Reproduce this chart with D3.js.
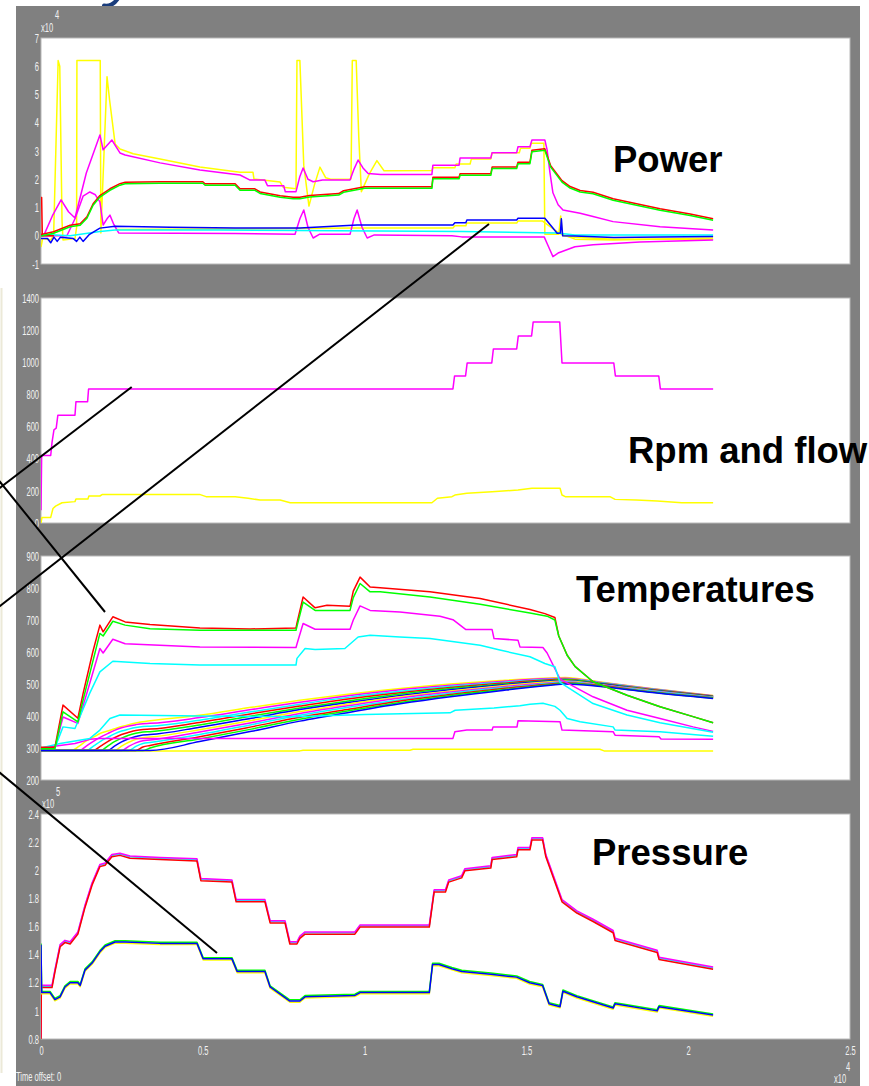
<!DOCTYPE html>
<html><head><meta charset="utf-8">
<script src="https://cdnjs.cloudflare.com/ajax/libs/d3/7.8.5/d3.min.js"></script>
<style>
html,body{margin:0;padding:0;background:#fff;}
svg{display:block;}
</style></head><body>
<svg id="c" width="869" height="1086"></svg>
<script>
// ---------------- DATA (time in units of 10^4 s) ----------------
const xTicks = [0, 0.5, 1, 1.5, 2, 2.5];
const xTickLabels = ["0", "0.5", "1", "1.5", "2", "2.5"];
const powerTicks = [-1, 0, 1, 2, 3, 4, 5, 6, 7];
const rpmTicks = [0, 200, 400, 600, 800, 1000, 1200, 1400];
const tempTicks = [200, 300, 400, 500, 600, 700, 800, 900];
const pressTicks = [0.8, 1, 1.2, 1.4, 1.6, 1.8, 2, 2.2, 2.4];
const pressTickLabels = ["0.8", "1", "1.2", "1.4", "1.6", "1.8", "2", "2.2", "2.4"];
const panelTitles = ["Power", "Rpm and flow", "Temperatures", "Pressure"];

// Power (x10^4)
const powerYellow = [[0,-0.4],[0.005,-0.1],[0.03,-0.15],[0.039,0],[0.053,6.2],[0.058,6.0],[0.065,0.5],[0.068,-0.15],[0.105,-0.1],[0.110,0.3],[0.111,6.2],[0.183,6.2],[0.185,0.1],[0.195,3.0],[0.204,5.63],[0.212,4.8],[0.229,3.25],[0.244,3.07],[0.285,2.9],[0.368,2.72],[0.491,2.43],[0.615,2.25],[0.655,2.25],[0.658,2.01],[0.739,1.9],[0.748,1.72],[0.788,1.66],[0.791,6.2],[0.800,6.2],[0.812,2.5],[0.828,1.05],[0.845,1.8],[0.862,2.43],[0.880,2.05],[0.895,2.0],[0.958,2.01],[0.962,6.2],[0.974,6.2],[0.982,3.5],[0.990,1.56],[1.015,2.2],[1.038,2.66],[1.060,2.3],[1.208,2.31],[1.211,2.41],[1.279,2.41],[1.283,2.54],[1.326,2.54],[1.330,2.72],[1.390,2.72],[1.394,2.94],[1.478,2.94],[1.482,3.1],[1.511,3.1],[1.515,3.27],[1.554,3.27],[1.557,0.05],[1.600,0.05],[1.606,0.7],[1.612,0.0],[1.650,-0.05],[1.770,-0.12],[2.077,-0.12]];
const powerYellow2 = [[0.229,0.22],[0.977,0.27],[1.273,0.27],[1.279,0.35],[1.313,0.35],[1.316,0.45],[1.470,0.45],[1.474,0.52],[1.550,0.52],[1.600,0.1],[1.650,-0.12],[1.770,-0.15],[2.077,-0.08]];
const powerMagentaA = [[0,0],[0.01,0.05],[0.035,0.7],[0.062,1.27],[0.085,0.85],[0.105,0.63],[0.140,2.22],[0.182,3.57],[0.192,3.04],[0.219,3.39],[0.244,2.93],[0.26,2.86],[0.368,2.58],[0.491,2.33],[0.615,2.15],[0.646,1.97],[0.692,1.97],[0.70,1.77],[0.75,1.77],[0.755,1.56],[0.788,1.56],[0.80,2.1],[0.81,2.4],[0.825,2.0],[0.841,1.91],[0.87,1.97],[0.955,1.97],[0.967,2.35],[0.98,2.68],[0.995,2.4],[1.011,2.2],[1.05,2.17],[1.208,2.17],[1.211,2.5],[1.292,2.5],[1.295,2.75],[1.390,2.75],[1.394,2.94],[1.470,2.94],[1.474,3.15],[1.511,3.15],[1.517,3.39],[1.557,3.39],[1.564,3.04],[1.573,2.22],[1.582,1.52],[1.598,1.1],[1.613,0.91],[1.666,0.8],[1.706,0.68],[1.768,0.5],[1.913,0.32],[2.077,0.2]];
const powerMagentaB = [[0,0],[0.08,0.0],[0.105,0.6],[0.13,1.4],[0.151,1.55],[0.168,1.45],[0.182,1.2],[0.192,0.38],[0.204,0.6],[0.213,0.73],[0.225,0.4],[0.240,0.1],[0.60,0.08],[0.785,0.05],[0.80,0.6],[0.812,0.91],[0.825,0.3],[0.841,-0.08],[0.86,0.05],[0.955,0.05],[0.967,0.6],[0.977,0.91],[0.992,0.3],[1.008,-0.08],[1.03,0.03],[1.27,0.0],[1.30,-0.04],[1.555,-0.04],[1.565,-0.3],[1.582,-0.74],[1.60,-0.6],[1.65,-0.39],[1.706,-0.32],[1.85,-0.22],[2.077,-0.15]];
const powerCyan = [[0,0.05],[0.09,0.0],[0.182,0.15],[0.229,0.2],[0.55,0.2],[1.30,0.15],[1.595,0.1],[1.65,0.03],[2.077,0.03]];
const powerRedStart = [[0,1.35],[0.002,1.35],[0.004,0],[0.04,0]];
const powerRG = [[0,0],[0.039,0.1],[0.09,0.33],[0.121,0.38],[0.142,0.63],[0.161,1.09],[0.182,1.38],[0.213,1.62],[0.244,1.8],[0.26,1.85],[0.368,1.87],[0.50,1.87],[0.507,1.8],[0.60,1.8],[0.615,1.62],[0.661,1.62],[0.677,1.51],[0.739,1.37],[0.779,1.32],[0.80,1.32],[0.83,1.38],[0.92,1.45],[0.935,1.55],[1.0,1.69],[1.208,1.69],[1.211,2.03],[1.292,2.03],[1.295,2.15],[1.390,2.15],[1.394,2.39],[1.470,2.39],[1.474,2.56],[1.511,2.56],[1.517,2.98],[1.557,3.04],[1.575,2.44],[1.61,1.91],[1.635,1.7],[1.666,1.56],[1.706,1.5],[1.768,1.27],[1.913,0.91],[2.006,0.73],[2.077,0.56]];
const powerBlue = [[0,-0.1],[0.02,-0.1],[0.03,-0.25],[0.04,-0.05],[0.05,-0.2],[0.06,-0.05],[0.10,-0.1],[0.11,-0.2],[0.12,-0.05],[0.13,-0.2],[0.15,0.05],[0.182,0.27],[0.229,0.34],[0.40,0.3],[0.60,0.27],[0.80,0.27],[0.977,0.38],[1.273,0.38],[1.279,0.46],[1.313,0.46],[1.316,0.56],[1.470,0.56],[1.474,0.62],[1.557,0.62],[1.58,0.3],[1.595,0.09],[1.605,0.1],[1.608,0.6],[1.612,0.0],[1.65,-0.01],[1.77,-0.06],[1.913,-0.04],[2.077,-0.03]];

// Rpm and flow
const rpm = [[0,80],[0.002,420],[0.030,420],[0.034,500],[0.040,580],[0.047,590],[0.052,670],[0.105,670],[0.108,755],[0.144,755],[0.147,834],[1.273,834],[1.278,915],[1.312,915],[1.317,996],[1.393,996],[1.398,1083],[1.470,1083],[1.475,1164],[1.516,1164],[1.521,1251],[1.603,1251],[1.610,996],[1.770,996],[1.775,915],[1.909,915],[1.914,834],[2.077,834]];
const flow = [[0,0],[0.003,35],[0.03,35],[0.037,90],[0.045,105],[0.065,126],[0.105,133],[0.108,149],[0.145,149],[0.148,168],[0.182,168],[0.19,178],[0.49,178],[0.51,164],[0.60,164],[0.64,154],[0.677,143],[0.739,143],[0.77,126],[1.208,126],[1.225,154],[1.27,164],[1.279,174],[1.316,185],[1.394,195],[1.474,205],[1.517,216],[1.604,216],[1.61,174],[1.62,164],[1.758,164],[1.774,147],[1.84,143],[1.904,137],[1.98,126],[2.077,126]];

// Temperatures
const tempRed = [[0,302],[0.043,302],[0.068,434],[0.114,393],[0.13,470],[0.16,600],[0.182,684],[0.192,663],[0.222,710],[0.26,694],[0.337,686],[0.491,675],[0.646,672],[0.788,675],[0.791,690],[0.81,772],[0.847,738],[0.884,746],[0.955,743],[0.965,790],[0.986,834],[1.017,803],[1.048,801],[1.202,788],[1.357,767],[1.511,733],[1.557,720],[1.588,708],[1.60,650],[1.626,590],[1.65,555],[1.706,507],[1.811,465],[1.913,429],[2.015,398],[2.077,379]];
const tempGreen = [[0,298],[0.043,298],[0.068,413],[0.114,382],[0.13,450],[0.16,570],[0.182,658],[0.192,650],[0.222,696],[0.26,684],[0.337,673],[0.491,668],[0.788,668],[0.791,680],[0.81,756],[0.847,730],[0.955,730],[0.965,770],[0.986,814],[1.017,788],[1.048,788],[1.202,772],[1.357,749],[1.511,722],[1.564,712],[1.588,700],[1.60,650],[1.626,590],[1.65,555],[1.706,507],[1.811,465],[1.913,429],[2.015,398],[2.077,379]];
const tempMagentaA = [[0,300],[0.043,300],[0.068,397],[0.114,377],[0.15,500],[0.182,611],[0.192,597],[0.222,640],[0.26,626],[0.491,616],[0.788,614],[0.791,625],[0.81,689],[0.847,671],[0.955,671],[0.965,700],[0.986,744],[1.017,730],[1.048,728],[1.109,725],[1.233,712],[1.273,701],[1.313,670],[1.394,670],[1.40,642],[1.474,637],[1.48,616],[1.551,614],[1.564,597],[1.604,515],[1.706,460],[1.811,418],[1.913,392],[2.015,366],[2.077,352]];
const tempCyanA = [[0,300],[0.043,300],[0.068,366],[0.105,361],[0.15,470],[0.182,538],[0.222,571],[0.26,569],[0.337,564],[0.491,559],[0.788,559],[0.791,580],[0.816,611],[0.847,608],[0.939,611],[0.98,647],[1.017,652],[1.109,647],[1.202,642],[1.357,621],[1.418,606],[1.511,585],[1.557,564],[1.588,554],[1.604,505],[1.706,439],[1.811,403],[1.913,379],[2.077,349]];
const tempCyanB = [[0,300],[0.059,314],[0.151,330],[0.182,356],[0.213,392],[0.244,403],[0.491,400],[0.779,398],[1.0,405],[1.264,410],[1.28,418],[1.40,425],[1.48,432],[1.511,437],[1.551,440],[1.588,430],[1.604,418],[1.626,392],[1.666,382],[1.768,366],[1.774,356],[1.913,351],[2.077,337]];
const tempMagentaB = [[0,300],[0.105,314],[0.151,327],[0.182,330],[1.273,330],[1.279,351],[1.316,356],[1.394,356],[1.397,366],[1.471,366],[1.474,385],[1.604,382],[1.610,356],[1.768,351],[1.774,340],[1.910,335],[1.916,328],[2.077,327]];
const tempYellow = [[0,300],[0.043,291],[0.80,291],[0.81,293],[1.14,293],[1.15,296],[1.727,296],[1.74,291],[2.077,291]];
// thermal band: shared time grid, one row of readings per line
const bandT = [0,0.096,0.118,0.140,0.162,0.184,0.206,0.227,0.249,0.271,0.293,0.315,0.337,0.49,0.65,0.80,0.955,1.11,1.265,1.42,1.575,1.62,1.73,1.88,2.077];
const band0  = [292,293,306,322,334,346,353,360,367,373,378,382,385,402,427,449,469,486,500,511,519,520,506,487,464];
const band1  = [292,292,292,306,321,334,345,355,363,369,373,376,377,395,420,443,464,482,496,508,517,518,505,486,463];
const band2  = [292,292,292,292,306,321,333,344,353,359,364,367,368,387,413,437,459,477,493,505,515,516,504,485,462];
const band3  = [292,292,292,292,292,306,320,332,342,349,355,358,359,380,407,431,454,473,489,502,513,515,502,484,462];
const band4  = [292,292,292,292,292,292,306,320,331,340,346,350,351,372,400,425,448,469,486,499,511,513,501,482,461];
const band5  = [292,292,292,292,292,292,292,306,319,329,336,341,342,365,393,420,443,464,482,497,509,511,500,481,460];
const band6  = [292,292,292,292,292,292,292,292,306,318,327,332,334,357,386,414,438,460,478,494,507,509,498,480,459];
const band7  = [292,292,292,292,292,292,292,292,292,305,316,323,325,350,379,408,433,456,475,491,504,507,497,479,458];
const band8  = [292,292,292,292,292,292,292,292,292,292,305,314,317,342,373,402,428,451,471,488,502,506,496,478,458];
const band9  = [292,292,292,292,292,292,292,292,292,292,292,303,308,335,366,396,422,447,467,485,500,504,495,476,457];
const band10 = [292,292,292,292,292,292,292,292,292,292,292,292,300,328,359,390,417,442,464,482,498,502,493,475,456];
const band11 = [292,292,292,292,292,292,292,292,292,292,292,292,292,320,352,384,412,438,460,479,496,500,492,474,455];
const bandRows = [band0,band1,band2,band3,band4,band5,band6,band7,band8,band9,band10,band11];

// Pressure (x10^5)
const pressUpper = [[0,0.8],[0.001,1.17],[0.034,1.17],[0.043,1.28],[0.059,1.46],[0.074,1.49],[0.090,1.48],[0.114,1.55],[0.136,1.74],[0.158,1.90],[0.182,2.03],[0.198,2.04],[0.219,2.10],[0.244,2.11],[0.275,2.09],[0.368,2.08],[0.482,2.07],[0.494,1.93],[0.590,1.92],[0.603,1.78],[0.692,1.78],[0.708,1.63],[0.754,1.63],[0.769,1.48],[0.791,1.48],[0.80,1.52],[0.816,1.55],[0.970,1.55],[0.986,1.60],[1.20,1.60],[1.215,1.85],[1.25,1.85],[1.26,1.92],[1.30,1.95],[1.31,2.0],[1.39,2.02],[1.394,2.08],[1.47,2.1],[1.474,2.15],[1.511,2.15],[1.517,2.22],[1.55,2.22],[1.56,2.1],[1.61,1.78],[1.656,1.70],[1.706,1.64],[1.768,1.56],[1.774,1.505],[1.904,1.42],[1.910,1.37],[2.077,1.30]];
const pressLower = [[0,1.47],[0.002,1.13],[0.028,1.13],[0.043,1.08],[0.059,1.10],[0.074,1.17],[0.090,1.20],[0.114,1.20],[0.121,1.18],[0.136,1.29],[0.158,1.34],[0.182,1.42],[0.198,1.46],[0.229,1.49],[0.26,1.49],[0.368,1.48],[0.482,1.48],[0.501,1.37],[0.590,1.37],[0.606,1.28],[0.692,1.28],[0.708,1.17],[0.769,1.07],[0.80,1.07],[0.816,1.10],[0.970,1.11],[0.986,1.13],[1.20,1.13],[1.21,1.33],[1.23,1.33],[1.27,1.30],[1.30,1.28],[1.39,1.26],[1.47,1.24],[1.51,1.20],[1.55,1.18],[1.57,1.05],[1.604,1.03],[1.613,1.14],[1.656,1.10],[1.768,1.02],[1.774,1.05],[1.904,1.0],[1.910,1.03],[2.077,0.97]];

// ---------------- DRAWING ----------------
const Y = "#ffff00", M = "#ff00ff", C = "#00ffff", R = "#ff0000", G = "#00ff00", B = "#0000ff";
const cycle = [Y, M, C, R, G, B];
const svg = d3.select("#c");
svg.append("rect").attr("width", 869).attr("height", 1086).attr("fill", "#ffffff");
svg.append("line").attr("x1", 1.5).attr("x2", 1.5).attr("y1", 288).attr("y2", 1073)
   .attr("stroke", "#ece9d8").attr("stroke-width", 2);
// fragment of the slide title glyph above the scope window
svg.append("path").attr("d", "M104,5.5 C110,6.5 114,4 117.5,-1").attr("fill", "none")
   .attr("stroke", "#1a3d7c").attr("stroke-width", 4).attr("stroke-linecap", "round");
svg.append("rect").attr("x", 16).attr("y", 6).attr("width", 844).attr("height", 1080).attr("fill", "#808080");

const x = d3.scaleLinear().domain([0, 2.5]).range([41, 850]);
const tickFont = "'Liberation Sans',Arial,sans-serif";
const labCol = "#f2f2f2";
const SX = 0.58;
const FS = 13;

const panels = [
  { top: 38, bottom: 264, dom: [-1, 7], ticks: powerTicks, fmt: d => String(d),
    series: [
      { d: powerYellow, c: Y }, { d: powerYellow2, c: Y }, { d: powerMagentaB, c: M }, { d: powerMagentaA, c: M },
      { d: powerCyan, c: C }, { d: powerRedStart, c: R }, { d: powerRG, c: R, dy: -1.2 }, { d: powerRG, c: G, dy: 0.3 },
      { d: powerBlue, c: B }
    ] },
  { top: 298, bottom: 523, dom: [0, 1400], ticks: rpmTicks, fmt: d => String(d),
    series: [ { d: flow, c: Y }, { d: rpm, c: M } ] },
  { top: 556, bottom: 780, dom: [200, 900], ticks: tempTicks, fmt: d => String(d),
    series: [ { d: tempYellow, c: Y } ]
      .concat(bandRows.map((row, i) => ({ d: bandT.map((t, j) => [t, row[j]]), c: cycle[i % 6], curve: d3.curveMonotoneX })))
      .concat([ { d: tempMagentaB, c: M }, { d: tempCyanB, c: C }, { d: tempMagentaA, c: M }, { d: tempCyanA, c: C },
                { d: tempRed, c: R }, { d: tempGreen, c: G } ]) },
  { top: 814, bottom: 1039, dom: [0.8, 2.4], ticks: pressTicks, fmt: (d, i) => pressTickLabels[i],
    series: [ { d: pressUpper, c: C, dy: -0.8 }, { d: pressUpper, c: M, dy: -1.6 }, { d: pressUpper, c: R, dy: 0.6 },
              { d: pressLower, c: Y, dy: 1.2 }, { d: pressLower, c: G, dy: -1.2 }, { d: pressLower, c: B } ] }
];

panels.forEach((p, pi) => {
  const y = d3.scaleLinear().domain(p.dom).range([p.bottom, p.top]);
  const g = svg.append("g");
  const cid = "clip" + pi;
  svg.append("clipPath").attr("id", cid).append("rect")
     .attr("x", 41).attr("y", p.top).attr("width", 809).attr("height", p.bottom - p.top);
  g.append("rect").attr("x", 41).attr("y", p.top).attr("width", 809).attr("height", p.bottom - p.top)
   .attr("fill", "#ffffff").attr("stroke", "#b8b8b8").attr("stroke-width", 1);
  const ax = g.append("g").attr("transform", "translate(39,0)")
     .call(d3.axisLeft(y).tickValues(p.ticks).tickSize(0).tickPadding(0).tickFormat(p.fmt));
  ax.select(".domain").remove();
  ax.selectAll("text").attr("fill", labCol).attr("font-family", tickFont).attr("font-size", FS)
    .attr("transform", `scale(${SX},1)`);
  const lg = g.append("g").attr("clip-path", `url(#${cid})`);
  p.series.forEach(s => {
    const line = d3.line().x(d => x(d[0])).y(d => y(d[1])).curve(s.curve || d3.curveLinear);
    lg.append("path").attr("d", line(s.d)).attr("fill", "none").attr("stroke", s.c)
      .attr("stroke-width", 1.5).attr("stroke-linejoin", "round")
      .attr("transform", `translate(0,${s.dy || 0})`);
  });
});

// bottom time axis
const xa = svg.append("g").attr("transform", "translate(0,1039)")
   .call(d3.axisBottom(x).tickValues(xTicks).tickSize(0).tickPadding(7).tickFormat((d, i) => xTickLabels[i]));
xa.select(".domain").remove();
xa.selectAll("text").attr("fill", labCol).attr("font-family", tickFont).attr("font-size", FS)
  .attr("transform", `scale(${SX},1)`);

function lab(tx, ty, s, anchor) {
  svg.append("text").attr("transform", `translate(${tx},${ty}) scale(${SX},1)`).attr("fill", labCol)
     .attr("font-family", tickFont).attr("font-size", FS).attr("text-anchor", anchor || "start").text(s);
}
lab(41, 32, "x10"); lab(55, 19, "4");
lab(42, 808, "x10"); lab(56, 796, "5");
lab(846, 1071, "4"); lab(834, 1083, "x10");
lab(16, 1081, "Time offset:  0");

// annotation lines
const ann = [[131.7, 387, -10, 495.4], [489, 224, -10, 613.8], [105, 612, -10, 469.5], [217, 953, -10, 764.6]];
ann.forEach(a => svg.append("line").attr("x1", a[0]).attr("y1", a[1]).attr("x2", a[2]).attr("y2", a[3])
   .attr("stroke", "#000").attr("stroke-width", 2));

// panel titles
const titlePos = [[613, 172], [628, 463], [576, 602], [592, 865]];
panelTitles.forEach((t, i) => svg.append("text").attr("x", titlePos[i][0]).attr("y", titlePos[i][1])
   .attr("font-family", "'Liberation Sans',Arial,sans-serif").attr("font-weight", "bold")
   .attr("font-size", 36.5).attr("fill", "#000").text(t));
</script></body></html>
